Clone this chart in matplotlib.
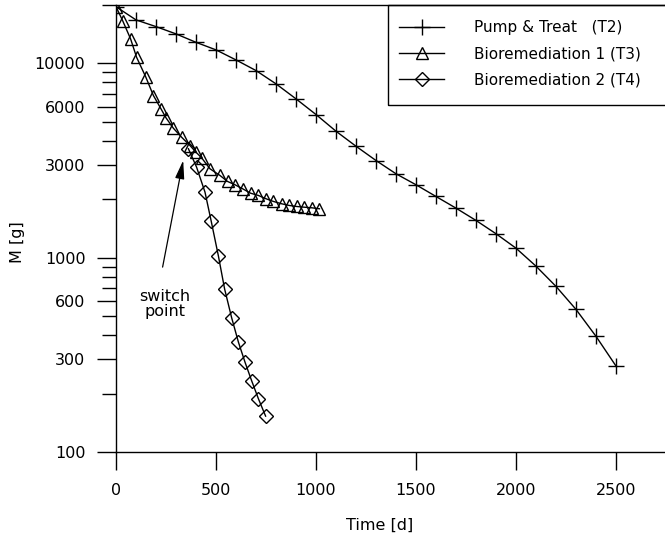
"""Contaminant mass over time for three remediation scenarios."""
import matplotlib
matplotlib.use("Agg")
import matplotlib.pyplot as plt
from matplotlib.patches import Rectangle
from matplotlib.ticker import FixedLocator, NullFormatter

# Pump & Treat (T2)
t_pt = [0, 100, 200, 300, 400, 500, 600, 700, 800, 900, 1000, 1100, 1200,
        1300, 1400, 1500, 1600, 1700, 1800, 1900, 2000, 2100, 2200, 2300, 2400, 2500]
m_pt = [19600, 16760, 15480, 14200, 12850, 11750, 10430, 9195, 7855, 6575, 5460, 4480, 3750,
        3166, 2705, 2375, 2067, 1800, 1556, 1329, 1120, 905, 712, 542, 394, 277]

# Bioremediation 1 (T3)
t_b1 = [0, 33, 73, 103, 148, 187, 225, 250, 287, 328, 370, 400, 428, 470,
        520, 558, 595, 633, 673, 712, 750, 787, 828, 867, 903, 940, 978, 1017]
m_b1 = [19600, 16630, 13380, 10760, 8560, 6840, 5840, 5250, 4640, 4173, 3781, 3493, 3269, 2870,
        2651, 2469, 2375, 2265, 2149, 2092, 2012, 1949, 1896, 1858, 1836, 1821, 1808, 1787]

# Bioremediation 2 (T4), after the switch point
t_b2 = [362, 403, 445, 476, 512, 543, 578, 612, 645, 678, 712, 748]
m_b2 = [3640, 2924, 2175, 1543, 1021, 691, 492, 368, 290, 233, 188, 153]

labels = ["Pump & Treat   (T2)", "Bioremediation 1 (T3)", "Bioremediation 2 (T4)"]
y_major = [100, 300, 600, 1000, 3000, 6000, 10000]
y_minor = [200, 400, 500, 700, 800, 900, 2000, 4000, 5000, 7000, 8000, 9000, 20000]
x_major = [0, 500, 1000, 1500, 2000, 2500]

plt.rcParams['font.family'] = ['DejaVu Sans']
fig = plt.figure(figsize=(6.65, 5.38), dpi=100)
ax = fig.add_axes([116/665, 1-452/538, 1-116/665, (452-5)/538])

kw = dict(color='k', lw=1.0, mfc='none', mec='k', mew=1.0)
ax.plot(t_pt, m_pt, marker='+', ms=12, label=labels[0], **kw)
ax.plot(t_b1, m_b1, marker='^', ms=9, label=labels[1], **kw)
ax.plot(t_b2, m_b2, marker='D', ms=7, label=labels[2], **kw)

ax.set_yscale('log')
ax.set_ylim(100, 20000)
ax.set_xlim(0, 2745)
ax.spines['right'].set_visible(False)
for s in ax.spines.values():
    s.set_linewidth(1.0)

ax.yaxis.set_major_locator(FixedLocator(y_major))
ax.set_yticklabels([str(v) for v in y_major])
ax.yaxis.set_minor_locator(FixedLocator(y_minor))
ax.yaxis.set_minor_formatter(NullFormatter())
ax.set_xticks(x_major)
ax.set_xticklabels([str(v) for v in x_major])
ax.tick_params(axis='y', which='major', direction='out', length=14, width=1.0, labelsize=11.5, pad=8)
ax.tick_params(axis='y', which='minor', direction='out', length=10, width=1.0)
ax.tick_params(axis='x', which='major', direction='out', length=13, width=1.0, labelsize=11.5, pad=9)

ax.set_ylabel("M [g]", fontsize=11.5)
ax.yaxis.set_label_coords((25-116)/(665-116), 0.47)
ax.set_xlabel("Time [d]", fontsize=11.5)
ax.xaxis.set_label_coords((380-116)/(665-116), -0.148)

ax.text(245, 575, "switch\npoint", ha='center', va='center', fontsize=11.5, linespacing=1.0)
ax.annotate("", xy=(336, 3170), xytext=(233, 895),
            arrowprops=dict(arrowstyle='-|>,head_length=0.8,head_width=0.2', color='k', lw=0.9,
                            mutation_scale=14, shrinkA=0, shrinkB=0))

# legend entries without frame; the box runs off the right edge like the original
x_box = (388-116)/(665-116)
leg = ax.legend(loc='upper left', bbox_to_anchor=(x_box, 1.0 - 4/447), fontsize=11,
                frameon=False, borderpad=0.75, handlelength=2.9, handletextpad=2.0,
                labelspacing=0.72, borderaxespad=0)
ax.add_patch(Rectangle((x_box, 1 - 100/447), 0.6, 100/447, transform=ax.transAxes,
                       fill=False, ec='k', lw=1.0, clip_on=False))

fig.savefig("out.png", dpi=100)
